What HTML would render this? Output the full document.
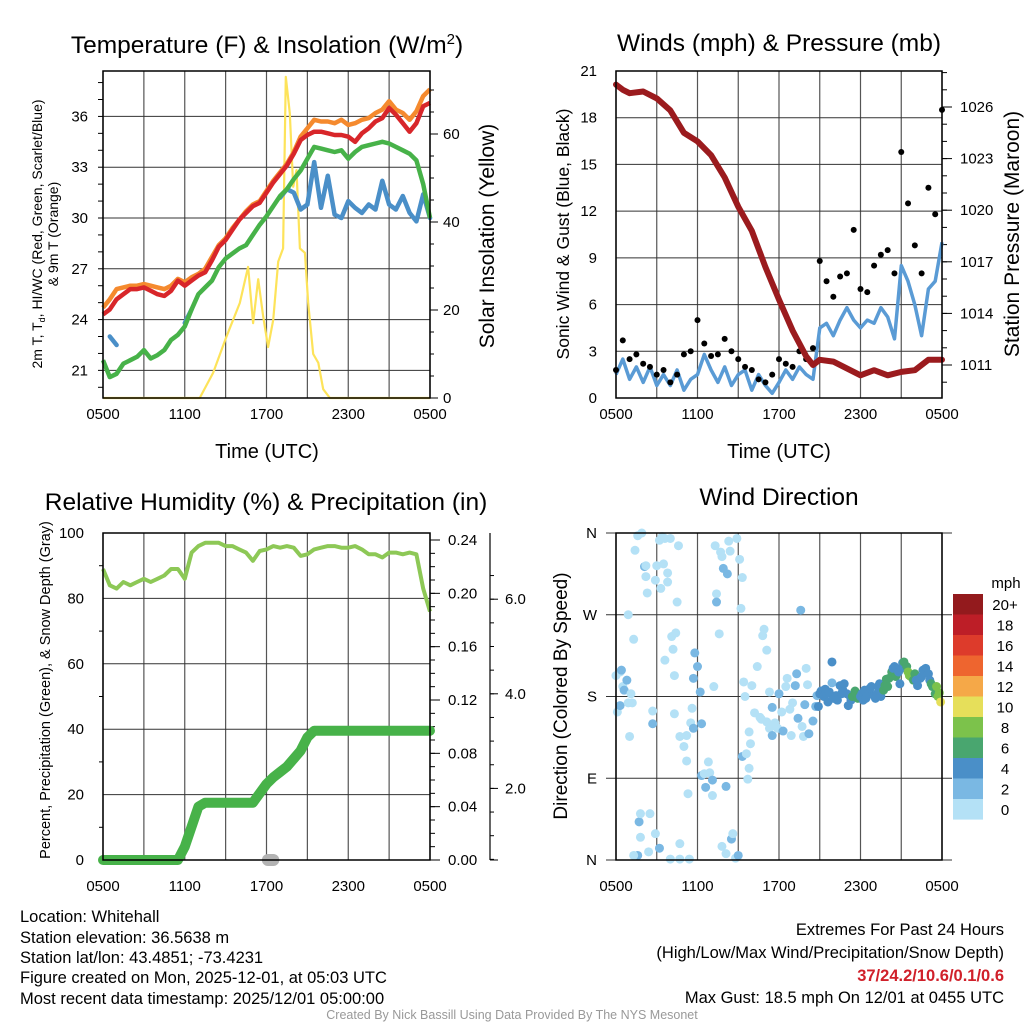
<!DOCTYPE html>
<html><head><meta charset="utf-8"><style>
html,body{margin:0;padding:0;background:#fff;}
svg{display:block;font-family:"Liberation Sans",Arial,sans-serif;}
</style></head><body>
<svg id="chart" width="1024" height="1024" viewBox="0 0 1024 1024" xmlns="http://www.w3.org/2000/svg">
<rect x="0" y="0" width="1024" height="1024" fill="#fff"/>
<g font-size="24.5" text-anchor="middle" fill="#000">
<text x="267" y="53">Temperature (F) &amp; Insolation (W/m<tspan font-size="15" dy="-9">2</tspan><tspan dy="9">)</tspan></text>
<text x="779" y="51">Winds (mph) &amp; Pressure (mb)</text>
<text x="266" y="510">Relative Humidity (%) &amp; Precipitation (in)</text>
<text x="779" y="505">Wind Direction</text>
</g>
<g fill="#000" text-anchor="middle">
<text x="267" y="458" font-size="20">Time (UTC)</text>
<text x="779" y="458" font-size="20">Time (UTC)</text>
<text font-size="14" transform="translate(42,234) rotate(-90)">2m T, T<tspan font-size="9" dy="3">d</tspan><tspan dy="-3">, HI/WC (Red, Green, Scarlet/Blue)</tspan></text>
<text font-size="14" transform="translate(58,234) rotate(-90)">&amp; 9m T (Orange)</text>
<text font-size="21" transform="translate(494,236) rotate(-90)">Solar Insolation (Yellow)</text>
<text font-size="17.5" transform="translate(569,234) rotate(-90)">Sonic Wind &amp; Gust (Blue, Black)</text>
<text font-size="21" transform="translate(1019,234) rotate(-90)">Station Pressure (Maroon)</text>
<text font-size="14.5" transform="translate(50,690) rotate(-90)">Percent, Precipitation (Green), &amp; Snow Depth (Gray)</text>
<text font-size="19" transform="translate(567,696) rotate(-90)">Direction (Colored By Speed)</text>
</g>
<g font-size="16.5" fill="#000">
<text x="20" y="922">Location: Whitehall</text>
<text x="20" y="943">Station elevation: 36.5638 m</text>
<text x="20" y="963">Station lat/lon: 43.4851; -73.4231</text>
<text x="20" y="983">Figure created on Mon, 2025-12-01, at 05:03 UTC</text>
<text x="20" y="1004">Most recent data timestamp: 2025/12/01 05:00:00</text>
<text x="1004" y="935" text-anchor="end">Extremes For Past 24 Hours</text>
<text x="1004" y="958" text-anchor="end">(High/Low/Max Wind/Precipitation/Snow Depth)</text>
<text x="1004" y="981" text-anchor="end" fill="#d0202a" font-weight="bold">37/24.2/10.6/0.1/0.6</text>
<text x="1004" y="1003" text-anchor="end">Max Gust: 18.5 mph On 12/01 at 0455 UTC</text>
<text x="512" y="1019" text-anchor="middle" font-size="12.5" fill="#999">Created By Nick Bassill Using Data Provided By The NYS Mesonet</text>
</g>
</svg>
<script>
// ---------- data ----------
const halfHours = [0,0.5,1,1.5,2,2.5,3,3.5,4,4.5,5,5.5,6,6.5,7,7.5,8,8.5,9,9.5,10,10.5,11,11.5,12,12.5,13,13.5,14,14.5,15,15.5,16,16.5,17,17.5,18,18.5,19,19.5,20,20.5,21,21.5,22,22.5,23,23.5,24];
const tempRed = [24.3,24.6,25.2,25.5,25.8,25.8,25.9,25.7,25.5,25.4,25.7,26.3,26.0,26.3,26.6,26.8,27.5,28.3,28.7,29.3,29.9,30.3,30.7,30.9,31.5,32.1,32.6,33.1,33.8,34.6,34.9,35.1,35.1,35.0,34.9,34.9,34.8,34.5,35.0,35.3,35.7,35.9,36.5,36.1,35.6,35.1,35.6,36.6,36.8];
const tempOrange = [24.7,25.2,25.8,25.9,26.0,26.0,26.1,26.0,25.9,25.8,26.0,26.4,26.2,26.5,26.7,27.0,27.7,28.4,28.8,29.4,29.9,30.4,30.8,31.0,31.6,32.2,32.7,33.2,33.9,34.8,35.3,35.8,35.7,35.7,35.6,35.8,35.5,35.6,35.8,35.9,36.2,36.4,36.9,36.4,36.2,35.8,36.3,37.2,37.6];
const dewGreen = [21.6,20.6,20.8,21.4,21.6,21.8,22.2,21.7,21.9,22.2,22.8,23.1,23.6,24.6,25.5,25.9,26.3,27.1,27.6,27.9,28.2,28.4,29.0,29.6,30.1,30.7,31.3,31.7,32.3,32.8,33.5,34.2,34.1,34.0,33.9,34.0,33.5,33.9,34.2,34.3,34.4,34.5,34.4,34.2,34.0,33.8,33.4,32.0,30.0];
const hiwcBlue = [null,23.0,22.5,null,24.3,null,null,null,null,null,null,null,23.8,24.6,null,null,null,null,null,null,null,null,null,null,null,null,31.2,31.7,31.5,30.5,30.8,33.3,30.6,32.5,30.2,30.0,31.0,30.6,30.3,30.8,30.5,32.2,30.8,30.5,31.3,30.3,29.8,31.4,30.0];
const insolHours = [0,7.1,8.08,9.06,10.04,10.65,11.02,11.39,11.76,12.12,12.49,12.86,13.22,13.42,13.71,13.96,14.2,14.45,14.82,15.06,15.43,15.8,16.16,16.65,24];
const insolValues = [0,0,5.7,13.9,21.6,29.8,17,27,18.5,11.6,17.7,31,34,73,64.7,48,51.8,34,33,21.6,10,8,2,0,0];
const pressHours = [0,0.5,1,2,3,4,5,6,7,8,9,10,11,12,13,14,14.5,15,16,17,18,19,20,21,22,23,24];
const pressValues = [1027.3,1027.0,1026.8,1026.9,1026.5,1025.8,1024.5,1024.0,1023.2,1021.9,1020.2,1018.8,1016.7,1014.8,1013.0,1011.5,1011.0,1011.3,1011.2,1010.8,1010.4,1010.7,1010.4,1010.6,1010.7,1011.3,1011.3];
const windSpeed = [1.5,2.5,1.2,2.0,1.0,2.0,0.8,1.5,0.8,1.8,0.5,1.2,1.5,2.8,1.8,1.0,2.0,0.8,1.5,1.8,0.5,1.5,0.8,0.3,1.0,1.8,1.2,2.0,1.5,1.2,4.5,4.8,4.0,5.0,5.8,5.0,4.5,5.0,4.8,5.8,5.2,3.8,8.5,7.5,6.0,4.0,7.0,7.5,10.0];
const windGust = [1.8,3.7,2.5,2.8,2.2,2.0,1.5,1.8,1.0,1.5,2.8,3.0,5.0,3.5,2.7,2.8,3.8,3.0,2.5,2.0,1.8,1.2,1.0,1.5,2.5,2.2,2.0,3.0,2.5,3.2,8.8,7.5,6.5,7.8,8.0,10.8,7.0,6.8,8.5,9.2,9.5,8.0,15.8,12.5,9.8,8.0,13.5,11.8,18.5];
const relHum = [89,84,83,85,84,85,86,85,86,87,89,89,86,94,96,97,97,97,96,96,95,94,91.5,94.5,95,96,95.5,96,95.5,93,93.5,95,95.5,96,96,95.5,95.5,96,95,93.5,93.5,92.5,94,94,93.5,94,93.5,83,76];
const precip = [0,0,0,0,0,0,0,0,0,0,0,0,0.01,0.025,0.04,0.043,0.043,0.043,0.043,0.043,0.043,0.043,0.043,0.05,0.057,0.062,0.066,0.07,0.076,0.082,0.092,0.097,0.097,0.097,0.097,0.097,0.097,0.097,0.097,0.097,0.097,0.097,0.097,0.097,0.097,0.097,0.097,0.097,0.097];
const snowHours = [12.1,12.3,12.5];
const snowDepth = [0,0,0];
const dirHours = [0,0.3,0.1,0.5,0.6,0.8,0.4,0.3,1.1,0.9,1.2,1.0,1.3,0.9,1.4,1.6,1.9,2.1,2.2,2.2,2.3,2.5,1.7,1.8,1.8,1.6,1.3,2.4,2.9,3.2,2.7,2.7,2.9,3.0,3.2,3.3,3.4,3.5,3.6,3.8,3.8,4.0,4.1,4.2,4.4,4.3,3.6,4.3,4.5,4.6,4.7,4.7,5.0,5.2,5.2,5.3,5.4,4.7,4.0,5.6,5.5,5.7,5.7,5.8,6.0,6.2,6.3,6.3,6.5,6.6,6.8,6.9,7.1,7.1,7.2,7.3,7.4,7.4,7.6,7.7,7.8,7.9,8.2,8.3,8.4,8.1,7.8,8.1,8.5,8.6,8.8,9.0,8.9,9.1,9.3,9.2,9.3,9.4,9.5,9.6,9.8,9.7,9.8,9.9,10.0,10.2,10.4,10.6,10.7,10.8,10.9,11.1,11.1,11.3,11.3,11.5,11.5,11.7,11.9,12.0,12.2,12.3,12.5,12.6,12.8,12.9,13.0,13.2,13.3,13.4,13.6,13.7,13.8,13.9,14.0,14.1,14.2,14.5,14.7,14.8,14.9,15.0,15.1,15.3,15.4,15.5,15.6,15.7,15.9,15.9,16.0,16.2,16.3,16.5,16.6,16.7,16.8,17.0,17.1,17.2,17.3,17.4,17.6,17.7,17.8,18.0,18.1,18.2,18.3,18.4,18.6,18.7,18.8,19.0,19.1,19.2,19.3,19.4,19.5,19.7,19.8,19.9,20.0,20.1,20.3,20.4,20.5,20.6,20.8,20.9,21.0,21.1,21.2,21.4,21.5,21.6,21.7,21.9,22.0,22.1,22.2,22.4,22.5,22.6,22.7,22.8,23.0,23.1,23.2,23.3,23.5,23.6,23.7,23.8,23.9];
const dirDegrees = [203,207,163,191,187,198,209,170,183,173,173,136,243,270,341,357,360,323,324,312,294,51,42,51,25,5,5,9,29,13,164,150,308,324,352,299,356,326,354,316,306,354,246,232,250,203,220,161,284,346,18,136,125,137,109,73,1,1,1,167,151,145,200,228,213,185,150,93,95,80,108,96,88,71,191,346,293,284,249,339,334,321,315,351,340,81,15,7,23,29,2,5,354,331,311,277,114,196,180,117,101,89,141,128,192,162,213,157,155,247,254,231,152,145,185,168,137,151,145,183,163,142,191,200,166,137,173,192,205,156,275,147,136,171,211,193,139,153,169,181,169,183,186,180,188,183,174,185,218,195,178,181,176,192,183,187,194,183,170,181,176,180,186,183,178,180,183,176,187,178,183,189,191,181,178,183,191,194,180,187,192,199,191,200,207,211,213,202,207,194,211,217,218,213,207,203,202,198,205,198,192,200,202,209,207,211,205,198,194,191,183,191,180,184,174];
const dirSpeeds = [1,1,1,1,3,3,3,3,1,1,1,1,1,1,1,1,1,3,1,1,1,1,3,1,1,3,1,1,1,3,1,3,1,1,1,1,1,1,1,1,1,1,1,1,1,1,1,1,1,1,1,1,1,1,1,1,1,1,1,1,1,3,3,3,3,3,3,3,1,3,1,1,3,1,1,1,1,3,1,1,1,3,3,1,1,3,1,1,3,1,1,3,1,1,1,1,3,1,1,1,1,1,1,1,1,1,1,1,1,1,1,1,1,1,1,3,3,1,1,3,1,3,1,1,1,1,1,3,3,3,3,1,1,3,1,1,3,3,3,3,4.5,4.5,4.5,4.5,4.5,4.5,4.5,4.5,4.5,3,4.5,4.5,4.5,4.5,4.5,4.5,4.5,4.5,4.5,4.5,5,6.5,6.5,6.5,6.5,4.5,4.5,4.5,4.5,4.5,4.5,4.5,4.5,4.5,4.5,4.5,4.5,4.5,4.5,6.5,6.5,6.5,6.5,6.5,6.5,4.5,4.5,6.5,4.5,4.5,4.5,4.5,6.5,7,8.5,8.5,8.5,7,7,4.5,4.5,4.5,4.5,4.5,4.5,4.5,4.5,4.5,6.5,6.5,7,8.5,8.5,8.5,10.5,6.5];
const legendLabels = ["20+","18","16","14","12","10","8","6","4","2","0"];
const legendColors = ["#931a1d","#bd1e27","#dd3b2b","#ee652f","#f5a848","#e6df5a","#7cc24b","#49a66f","#4a8fc8","#7ab8e3","#b4e1f6"];
const tempTicks = [21,24,27,30,33,36];
const insolTicks = [0,20,40,60];
const windTicks = [0,3,6,9,12,15,18,21];
const pressTicks = [1011,1014,1017,1020,1023,1026];
const rhTicks = [0,20,40,60,80,100];
const precipTicks = [0,0.04,0.08,0.12,0.16,0.20,0.24];
const snowTicks = [2,4,6];
const dirTicks = ["N","E","S","W","N"];
const timeTicks = ["0500","1100","1700","2300","0500"];

// ---------- helpers ----------
const NS = "http://www.w3.org/2000/svg";
const svg = document.getElementById("chart");
function mk(tag, attrs, parent) {
  const e = document.createElementNS(NS, tag);
  for (const k in attrs) e.setAttribute(k, attrs[k]);
  (parent || svg).appendChild(e);
  return e;
}
function grp(name) {
  const g = mk("g", {});
  
  
  return g;
}
const L = {x0:103, x1:430}, R = {x0:616, x1:942};
const xL = h => L.x0 + h / 24 * (L.x1 - L.x0);
const xR = h => R.x0 + h / 24 * (R.x1 - R.x0);
const yTemp = t => 218 - (t - 30) * 16.93;
const yIns = v => 398 - v * 4.4;
const yWind = w => 398 - w / 21 * 327;
const yPress = p => 365 - (p - 1011) * 17.2;
const yRH = r => 860 - r * 3.27;
const yPrec = p => 860 - p * 1333.3;
const yDir = d => 860 - d / 360 * 327;
function pathD(xs, ys, fx, fy) {
  let d = "", pen = false;
  for (let i = 0; i < xs.length; i++) {
    if (ys[i] === null || ys[i] === undefined) { pen = false; continue; }
    d += (pen ? "L" : "M") + fx(xs[i]).toFixed(1) + "," + fy(ys[i]).toFixed(1);
    pen = true;
  }
  return d;
}
function speedColor(s) {
  let idx = Math.min(10, Math.floor(s / 2));
  return legendColors[10 - idx];
}

// ---------- grids ----------
function panelGrid(name, x0, x1, y0, y1, xs, ys) {
  const g = grp(name);
  xs.forEach(x => {
    const ln = mk("line", {x1:x, x2:x, y1:y0, y2:y1, stroke:"#555", "stroke-width":1.2}, g);
    
    
  });
  ys.forEach(y => {
    const ln = mk("line", {x1:x0, x2:x1, y1:y, y2:y, stroke:"#333", "stroke-width":1}, g);
    
    
  });
  return g;
}
const hrs3 = [0,3,6,9,12,15,18,21,24];
panelGrid("temp-grid", L.x0, L.x1, 71, 398, hrs3.map(xL), tempTicks.map(yTemp));
panelGrid("wind-grid", R.x0, R.x1, 71, 398, hrs3.map(xR), windTicks.map(yWind));
panelGrid("humidity-grid", L.x0, L.x1, 533, 860, hrs3.map(xL), rhTicks.map(yRH));
panelGrid("direction-grid", 606, 952, 533, 860, hrs3.map(xR), [0,90,180,270,360].map(yDir));

function label(name, x, y, txt, anchor, size, parent) {
  const t = mk("text", {x:x, y:y, "text-anchor":anchor, "font-size":size || 15, fill:"#000"}, parent);
  t.textContent = txt;
  
  
  return t;
}
function tick(x1, y1, x2, y2, parent) {
  const ln = mk("line", {x1:x1, y1:y1, x2:x2, y2:y2, stroke:"#000", "stroke-width":1}, parent);
  
  
}
const axT = grp("temp-axes");
tempTicks.forEach(v => label("temp-tick-label", 88, yTemp(v) + 5, String(v), "end", 15, axT));
for (let v = 20; v <= 38; v++) tick(98, yTemp(v), 103, yTemp(v), axT);
insolTicks.forEach(v => { label("insolation-tick-label", 443, yIns(v) + 5, String(v), "start", 15, axT); tick(430, yIns(v), 438, yIns(v), axT); });
for (let v = 5; v <= 70; v += 5) tick(430, yIns(v), 434, yIns(v), axT);
const axW = grp("wind-axes");
windTicks.forEach(v => label("wind-tick-label", 597, yWind(v) + 5, String(v), "end", 15, axW));
pressTicks.forEach(v => { label("pressure-tick-label", 960, yPress(v) + 5, String(v), "start", 15, axW); tick(942, yPress(v), 952, yPress(v), axW); });
for (let v = 1010; v <= 1028; v++) tick(942, yPress(v), 947, yPress(v), axW);
const axH = grp("humidity-axes");
rhTicks.forEach(v => label("humidity-tick-label", 84, yRH(v) + 5, String(v), "end", 15, axH));
for (let v = 10; v <= 90; v += 20) tick(99, yRH(v), 103, yRH(v), axH);
precipTicks.forEach(v => { label("precip-tick-label", 448, yPrec(v) + 5, v.toFixed(2), "start", 15, axH); tick(430, yPrec(v), 440, yPrec(v), axH); });
for (let v = 0.01; v < 0.245; v += 0.01) tick(430, yPrec(v), 435, yPrec(v), axH);
const snowAxis = mk("line", {x1:490, x2:490, y1:533, y2:860, stroke:"#000", "stroke-width":1.2}, axH);


const ySnowTick = v => 883 - v * 47.3;
snowTicks.forEach(v => { label("snow-tick-label", 505, ySnowTick(v) + 5, v.toFixed(1), "start", 15, axH); tick(490, ySnowTick(v), 498, ySnowTick(v), axH); });
for (let v = 0.5; v < 6.9; v += 0.5) tick(490, ySnowTick(v), 494, ySnowTick(v), axH);
tick(490, 860, 498, 860, axH);
const axD = grp("direction-axes");
dirTicks.forEach((s, i) => label("direction-tick-label", 597, yDir(i * 90) + 5, s, "end", 15, axD));
[[xL, 419], [xR, 419], [xL, 891], [xR, 891]].forEach(([fx, y]) => {
  timeTicks.forEach((s, i) => label("time-tick-label", fx(i * 6), y, s, "middle", 15, axT));
});

// ---------- temperature ----------
const sT = grp("temperature-series");
const ins = mk("path", {d:pathD(insolHours, insolValues, xL, yIns), fill:"none", stroke:"#fde35a", "stroke-width":2.2, "stroke-linejoin":"round"}, sT);


const hw = mk("path", {d:pathD(halfHours, hiwcBlue, xL, yTemp), fill:"none", stroke:"#4a8fc8", "stroke-width":4.5, "stroke-linecap":"round", "stroke-linejoin":"round"}, sT);


const dw = mk("path", {d:pathD(halfHours, dewGreen, xL, yTemp), fill:"none", stroke:"#47b249", "stroke-width":4.5, "stroke-linejoin":"round"}, sT);


const t9 = mk("path", {d:pathD(halfHours, tempOrange, xL, yTemp), fill:"none", stroke:"#f58a2e", "stroke-width":4.5, "stroke-linejoin":"round"}, sT);


const t2 = mk("path", {d:pathD(halfHours, tempRed, xL, yTemp), fill:"none", stroke:"#d8262a", "stroke-width":4.5, "stroke-linejoin":"round"}, sT);



// ---------- winds ----------
const sW = grp("wind-series");
const ws = mk("path", {d:pathD(halfHours, windSpeed, xR, yWind), fill:"none", stroke:"#5a9bd5", "stroke-width":3.5, "stroke-linejoin":"round"}, sW);


windGust.forEach((g, i) => {
  const c = mk("circle", {cx:xR(halfHours[i]), cy:yWind(g), r:3, fill:"#000"}, sW);
  
  
});
const pr = mk("path", {d:pathD(pressHours, pressValues, xR, yPress), fill:"none", stroke:"#9b1b1e", "stroke-width":6, "stroke-linecap":"round", "stroke-linejoin":"round"}, sW);



// ---------- humidity ----------
const sH = grp("humidity-series");
const sn = mk("path", {d:pathD(snowHours, snowDepth, xL, yPrec), fill:"none", stroke:"#b3b3b3", "stroke-width":12, "stroke-linecap":"round"}, sH);


const pc = mk("path", {d:pathD(halfHours, precip, xL, yPrec), fill:"none", stroke:"#47b249", "stroke-width":10, "stroke-linecap":"round", "stroke-linejoin":"round"}, sH);


const rh = mk("path", {d:pathD(halfHours, relHum, xL, yRH), fill:"none", stroke:"#8dc856", "stroke-width":4, "stroke-linejoin":"round"}, sH);



// ---------- wind direction ----------
const sD = grp("direction-series");
dirHours.forEach((h, i) => {
  const c = mk("circle", {cx:xR(h), cy:yDir(dirDegrees[i]), r:4.5, fill:speedColor(dirSpeeds[i])}, sD);
  
  
});

// frames
[[L.x0,71,L.x1,398],[R.x0,71,R.x1,398],[L.x0,533,L.x1,860],[R.x0,533,R.x1,860]].forEach(([a,b,c,d]) => {
  const r = mk("rect", {x:a, y:b, width:c-a, height:d-b, fill:"none", stroke:"#000", "stroke-width":1.5});
  
  
});

// legend
const lg = grp("speed-legend");
label("legend-title", 1006, 588, "mph", "middle", 15, lg);
legendLabels.forEach((s, i) => {
  const r = mk("rect", {x:953, y:594 + i * 20.5, width:30, height:20.6, fill:legendColors[i]}, lg);
  
  
  label("legend-label", 1005, 610 + i * 20.5, s, "middle", 15, lg);
});
</script>
</body></html>
